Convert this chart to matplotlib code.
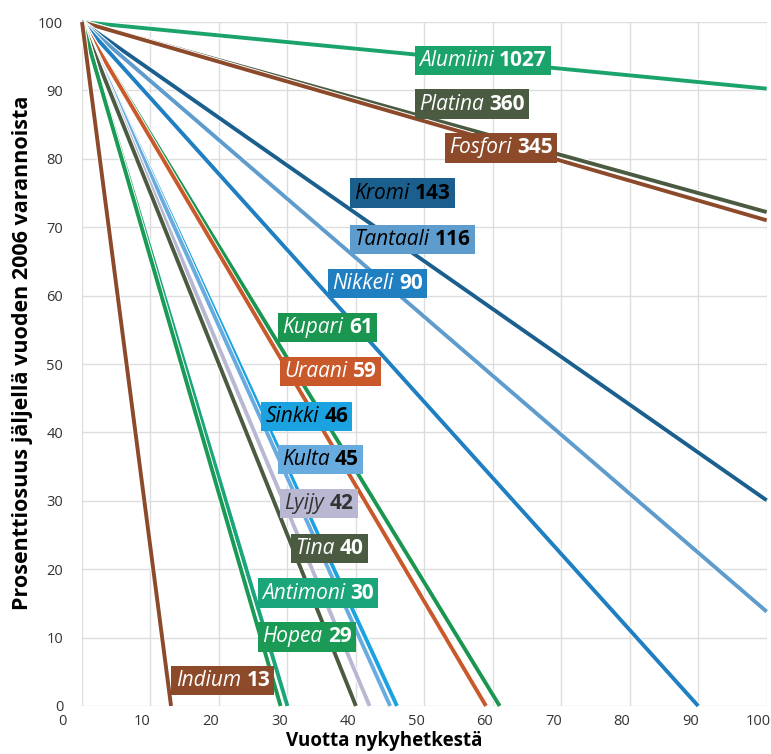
import matplotlib
matplotlib.use('Agg')
import matplotlib.pyplot as plt
import matplotlib.patheffects as pe
from matplotlib.offsetbox import TextArea, HPacker, AnnotationBbox
from matplotlib.transforms import ScaledTranslation

plt.rcParams['font.family'] = ['Open Sans', 'DejaVu Sans']

# data: years of reserves left (from 2006), per material
names = ['Alumiini', 'Platina', 'Fosfori', 'Kromi', 'Tantaali', 'Nikkeli', 'Kupari',
         'Uraani', 'Sinkki', 'Kulta', 'Lyijy', 'Tina', 'Antimoni', 'Hopea', 'Indium']
years = [1027, 360, 345, 143, 116, 90, 61, 59, 46, 45, 42, 40, 30, 29, 13]
colors = ['#1ba36c', '#4b5b42', '#8c4a2b', '#1b5f8f', '#5e9ccd', '#1f7fc1', '#1a9650',
          '#c9582a', '#1aa3e0', '#68acdf', '#b8b8d2', '#4b5b42', '#1aa57a', '#1a9a55', '#8c4a2b']
text_colors = ['white', 'white', 'white', 'black', 'black', 'white', 'white',
               'white', 'black', 'black', '#333333', 'white', 'white', 'white', 'white']

# where each label box sits (left edge x, centre y)
label_x = [48.2, 48.3, 52.7, 38.8, 38.8, 35.6, 28.3, 28.6, 25.8, 28.2, 28.6, 30.1, 25.3, 25.4, 12.7]
label_y = [94.4, 88.0, 81.6, 75.0, 68.2, 61.8, 55.3, 48.9, 42.3, 36.0, 29.6, 23.0, 16.5, 10.1, 3.7]

fig = plt.figure(figsize=(7.71, 7.54), dpi=100)
ax = fig.add_axes([0.1064, 0.0637, 0.888, 0.907])

for n, c in zip(years, colors):
    x_end = min(n, 100)
    y_end = 100 * (1 - x_end / n)
    ax.plot([0, x_end], [100, y_end], color=c, lw=2.8, solid_capstyle='butt', clip_on=False,
            path_effects=[pe.Stroke(linewidth=4.2, foreground='white'), pe.Normal()])

pad = 0.38  # in units of 10pt
for name, n, c, tc, lx, ly in zip(names, years, colors, text_colors, label_x, label_y):
    t1 = TextArea(name, textprops=dict(color=tc, fontsize=15, fontstyle='italic'))
    t2 = TextArea(str(n), textprops=dict(color=tc, fontsize=15, fontweight='bold'))
    box = HPacker(children=[t1, t2], sep=4, pad=0, align='baseline')
    ab = AnnotationBbox(box, (lx, ly), xycoords='data', xybox=(pad * 10 + 1, 0),
                        boxcoords='offset points', box_alignment=(0, 0.5), pad=pad,
                        bboxprops=dict(facecolor=c, edgecolor='none', boxstyle='square'))
    ab.set_zorder(5)
    ax.add_artist(ab)

ax.set_xlim(0, 100)
ax.set_ylim(0, 100)
ax.set_xticks(range(0, 101, 10))
ax.set_yticks(range(0, 101, 10))
ax.grid(True, color='#dddddd', lw=1)
ax.set_axisbelow(True)
for s in ax.spines.values():
    s.set_visible(False)
ax.tick_params(length=0, labelsize=10.5, labelcolor='#333333')
ax.tick_params(axis='y', pad=13.5)
ax.tick_params(axis='x', pad=6)

for i, lab in enumerate(ax.get_xticklabels()):
    dx = -20 if i == 0 else -8
    lab.set_transform(lab.get_transform() + ScaledTranslation(dx / 100, 0, fig.dpi_scale_trans))

ax.set_xlabel('Vuotta nykyhetkestä', fontsize=13.5, fontweight='bold')
ax.set_ylabel('Prosenttiosuus jäljellä vuoden 2006 varannoista', fontsize=15.5,
              fontweight='bold')
ax.xaxis.set_label_coords(0.442, -0.036)
ax.yaxis.set_label_coords(-0.072, 0.516)

fig.savefig('out.png', dpi=100)
